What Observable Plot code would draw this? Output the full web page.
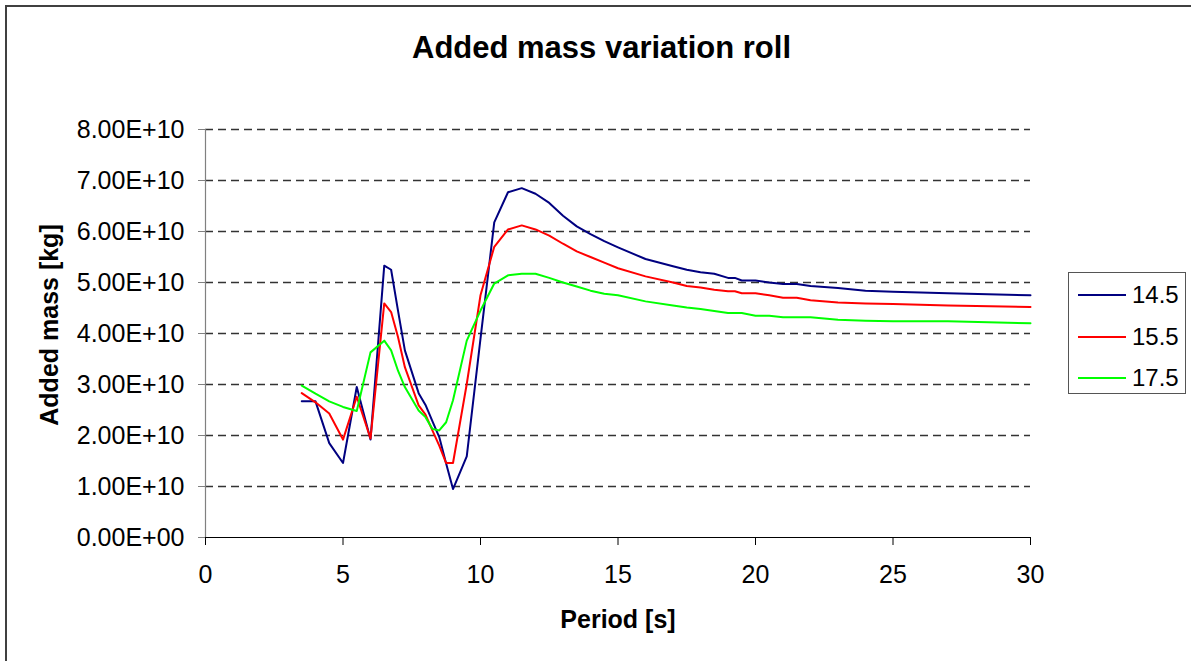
<!DOCTYPE html>
<html><head><meta charset="utf-8">
<script src="https://cdn.jsdelivr.net/npm/d3@7"></script>
<script src="https://cdn.jsdelivr.net/npm/@observablehq/plot@0.6"></script>
<style>
body{margin:0;background:#fff;overflow:hidden;font-family:"Liberation Sans",Arial,sans-serif;color:#000;}
#wrap{position:relative;width:1191px;height:661px;overflow:hidden;}
#frame{position:absolute;left:5px;top:5px;width:1200px;height:700px;border:2px solid #404040;box-sizing:border-box;}
#title{position:absolute;left:0;width:1203px;top:32px;text-align:center;font-weight:bold;font-size:31px;line-height:31px;}
#xlabel{position:absolute;left:0;width:1236px;top:607px;text-align:center;font-weight:bold;font-size:25px;line-height:25px;}
#ylabel{position:absolute;left:49px;top:325px;font-weight:bold;font-size:25px;line-height:25px;white-space:nowrap;transform:translate(-50%,-50%) rotate(-90deg);}
#legend{position:absolute;left:1068px;top:272px;width:118px;height:122px;border:1px solid #555;box-sizing:border-box;}
.lrow{position:absolute;left:0;width:116px;height:24px;}
.lline{position:absolute;left:9px;width:48px;height:2px;top:11px;}
.ltext{position:absolute;left:63px;top:0;font-size:24px;line-height:24px;}
#chart{position:absolute;left:0;top:0;}
</style></head>
<body><div id="wrap"><div id="chart"></div><div id="frame"></div>
<div id="title">Added mass variation roll</div>
<div id="xlabel">Period [s]</div>
<div id="ylabel">Added mass [kg]</div>
<div id="legend"></div>
</div>
<script>
const periods = [3.5, 4, 4.5, 5, 5.5, 6, 6.5, 6.75, 7, 7.25, 7.75, 8, 8.25, 8.5, 8.75, 9, 9.5, 10, 10.5, 11, 11.5, 12, 12.5, 13, 13.5, 14, 14.5, 15, 16, 17, 17.5, 18, 18.5, 19, 19.25, 19.5, 20, 20.5, 21, 21.5, 22, 23, 24, 25, 27, 30];
const mass145 = [2.67e10, 2.67e10, 1.85e10, 1.46e10, 2.95e10, 1.92e10, 5.33e10, 5.25e10, 4.45e10, 3.67e10, 2.83e10, 2.60e10, 2.28e10, 1.97e10, 1.45e10, 0.95e10, 1.59e10, 3.90e10, 6.18e10, 6.77e10, 6.85e10, 6.74e10, 6.56e10, 6.31e10, 6.10e10, 5.95e10, 5.81e10, 5.69e10, 5.46e10, 5.32e10, 5.25e10, 5.20e10, 5.17e10, 5.09e10, 5.09e10, 5.04e10, 5.04e10, 5.00e10, 4.97e10, 4.97e10, 4.93e10, 4.89e10, 4.84e10, 4.82e10, 4.79e10, 4.75e10];
const mass155 = [2.83e10, 2.65e10, 2.43e10, 1.92e10, 2.76e10, 1.94e10, 4.59e10, 4.42e10, 3.93e10, 3.34e10, 2.59e10, 2.41e10, 2.10e10, 1.80e10, 1.46e10, 1.46e10, 3.01e10, 4.75e10, 5.70e10, 6.04e10, 6.12e10, 6.04e10, 5.92e10, 5.76e10, 5.61e10, 5.50e10, 5.39e10, 5.28e10, 5.12e10, 5.00e10, 4.93e10, 4.90e10, 4.86e10, 4.83e10, 4.83e10, 4.79e10, 4.79e10, 4.75e10, 4.70e10, 4.70e10, 4.65e10, 4.61e10, 4.59e10, 4.58e10, 4.55e10, 4.52e10];
const mass175 = [2.98e10, 2.82e10, 2.67e10, 2.56e10, 2.48e10, 3.63e10, 3.86e10, 3.67e10, 3.27e10, 2.95e10, 2.49e10, 2.36e10, 2.13e10, 2.10e10, 2.26e10, 2.69e10, 3.86e10, 4.45e10, 4.98e10, 5.14e10, 5.17e10, 5.17e10, 5.09e10, 5.00e10, 4.92e10, 4.84e10, 4.78e10, 4.75e10, 4.63e10, 4.55e10, 4.51e10, 4.48e10, 4.44e10, 4.40e10, 4.40e10, 4.40e10, 4.35e10, 4.35e10, 4.32e10, 4.32e10, 4.32e10, 4.27e10, 4.25e10, 4.24e10, 4.24e10, 4.20e10];
const seriesNames = ["14.5", "15.5", "17.5"];
const seriesColors = ["#000080", "#ff0000", "#00ff00"];
const xTicks = [0, 5, 10, 15, 20, 25, 30];
const yTicks = [0, 1e10, 2e10, 3e10, 4e10, 5e10, 6e10, 7e10, 8e10];

const seriesValues = [mass145, mass155, mass175];
const data = [];
seriesNames.forEach((name, i) => {
  periods.forEach((p, j) => data.push({series: name, period: p, mass: seriesValues[i][j]}));
});

function fmt(d) {
  if (d === 0) return "0.00E+00";
  const e = Math.floor(Math.log10(d) + 1e-9);
  const m = d / Math.pow(10, e);
  return m.toFixed(2) + "E+" + String(e).padStart(2, "0");
}

const chart = Plot.plot({
  width: 1191,
  height: 661,
  marginLeft: 205,
  marginRight: 161,
  marginTop: 129,
  marginBottom: 124,
  style: {fontFamily: "'Liberation Sans', Arial, sans-serif", fontSize: "25px", color: "#000", background: "transparent"},
  x: {domain: [0, 30]},
  y: {domain: [0, 8e10]},
  color: {domain: seriesNames, range: seriesColors},
  marks: [
    Plot.ruleY(yTicks.filter(d => d > 0), {stroke: "#333", strokeWidth: 1.3, strokeDasharray: "8,5"}),
    Plot.ruleX([0], {y1: 0, y2: 8e10, stroke: "#808080", strokeWidth: 1.2}),
    Plot.ruleY([0], {stroke: "#000", strokeWidth: 1.2}),
    Plot.axisY({ticks: yTicks, tickFormat: fmt, tickSize: 7, tickPadding: 14, stroke: "#808080", label: null}),
    Plot.axisX({ticks: xTicks, tickFormat: d => String(d), tickSize: 8, tickPadding: 20, stroke: "#000", label: null}),
    Plot.line(data, {x: "period", y: "mass", z: "series", stroke: "series", strokeWidth: 2})
  ]
});
document.getElementById("chart").appendChild(chart);

const legend = document.getElementById("legend");
const rowCenters = [22, 64, 105];
seriesNames.forEach((name, i) => {
  const row = document.createElement("div");
  row.className = "lrow";
  row.style.top = (rowCenters[i] - 12) + "px";
  const line = document.createElement("div");
  line.className = "lline";
  line.style.background = seriesColors[i];
  const txt = document.createElement("div");
  txt.className = "ltext";
  txt.textContent = name;
  row.appendChild(line); row.appendChild(txt);
  legend.appendChild(row);
});
</script>
</body></html>
